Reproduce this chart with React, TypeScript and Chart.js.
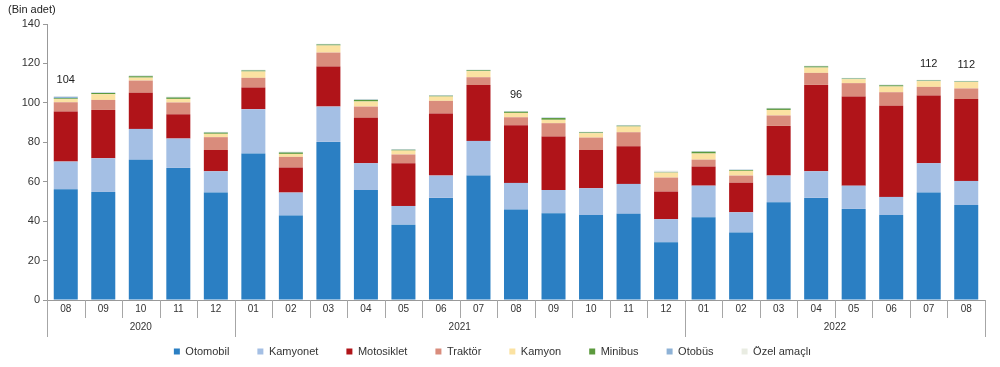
import React, { useEffect, useRef } from "react";
import { Chart, registerables } from "chart.js";
Chart.register(...registerables);

const months = ["08","09","10","11","12","01","02","03","04","05","06","07","08","09","10","11","12","01","02","03","04","05","06","07","08"];
const yearLabels = ["2020", "2021", "2022"];
const yearStart = [0, 5, 17];
const yearEnd = [4, 16, 24];

const otomobil = [56.2,54.8,71.1,67.0,54.5,74.3,42.8,80.2,55.8,38.2,51.8,63.1,45.9,44.0,43.1,43.7,29.3,42.0,34.2,49.6,51.8,46.2,43.1,54.5,48.2];
const kamyonet = [14.0,17.1,15.7,14.9,10.8,22.5,11.7,17.9,13.6,9.5,11.3,17.6,13.5,11.8,13.6,15.2,11.7,16.0,10.3,13.5,13.5,11.8,9.2,14.9,12.2];
const motosiklet = [25.4,24.5,18.3,12.3,10.8,11.0,12.7,20.3,23.0,21.7,31.5,28.3,29.3,27.1,19.4,19.1,14.0,9.7,15.0,25.2,43.8,45.2,46.2,34.3,41.5];
const traktor = [4.7,5.1,6.2,6.0,6.5,4.9,5.4,7.1,5.7,4.4,6.4,4.0,4.0,6.8,6.3,7.1,7.1,3.5,3.6,5.3,6.1,6.8,6.9,4.4,5.4];
const kamyon = [1.6,2.9,1.5,1.8,1.7,3.2,1.5,3.6,2.6,2.0,2.2,3.1,2.2,1.7,2.2,2.9,2.5,3.1,2.4,2.8,2.7,2.0,2.9,2.9,3.3];
const minibus = [0.4,0.6,0.7,0.7,0.6,0.5,0.7,0.5,0.8,0.4,0.4,0.4,0.6,0.9,0.4,0.4,0.2,0.9,0.4,0.7,0.6,0.3,0.6,0.3,0.2];
const otobus = [0.8,0.2,0.2,0.2,0.2,0.2,0.2,0.2,0.2,0.2,0.2,0.2,0.2,0.2,0.2,0.2,0.2,0.2,0.2,0.2,0.2,0.2,0.2,0.2,0.2];
const ozel = [0.3,0.2,0.3,0.3,0.2,0.2,0.3,0.2,0.3,0.2,0.2,0.2,0.2,0.2,0.2,0.2,0.6,0.2,0.2,0.2,0.2,0.2,0.2,0.2,0.2];
const totalLabels: (string | null)[] = ["104",null,null,null,null,null,null,null,null,null,null,null,"96",null,null,null,null,null,null,null,null,null,null,"112","112"];
const yTicks = [0, 20, 40, 60, 80, 100, 120, 140];

const seriesNames = ["Otomobil","Kamyonet","Motosiklet","Traktör","Kamyon","Minibus","Otobüs","Özel amaçlı"];
const seriesData = [otomobil, kamyonet, motosiklet, traktor, kamyon, minibus, otobus, ozel];
const seriesColors = ["#2b7fc3","#a4bfe4","#b01419","#d98c7c","#fbe2a2","#5c9a3e","#8eb2d6","#e9ece2"];

const FONT = "'Liberation Sans', Arial, sans-serif";
const NARROW = "'Liberation Sans Narrow', 'Liberation Sans', Arial, sans-serif";

const overlay = {
  id: "overlay",
  afterDraw(chart: any) {
    const { ctx, chartArea, scales } = chart;
    const x = scales.x;
    const y = scales.y;
    const half = (x.getPixelForValue(1) - x.getPixelForValue(0)) / 2;
    ctx.save();
    // title
    ctx.fillStyle = "#222";
    ctx.font = `11px ${FONT}`;
    ctx.textAlign = "left";
    ctx.textBaseline = "middle";
    ctx.fillText("(Bin adet)", 8, 10);
    // month separators
    ctx.strokeStyle = "#a6a6a6";
    ctx.lineWidth = 1;
    for (let i = 0; i <= months.length; i++) {
      const px = Math.round(x.getPixelForValue(0) - half + i * 2 * half) + 0.5;
      const isYear = yearStart.includes(i) || i === months.length;
      ctx.beginPath();
      ctx.moveTo(px, chartArea.bottom);
      ctx.lineTo(px, isYear ? 337 : 318);
      ctx.stroke();
    }
    // month labels
    ctx.fillStyle = "#333";
    ctx.font = `10px ${NARROW}`;
    ctx.textAlign = "center";
    for (let i = 0; i < months.length; i++) {
      ctx.fillText(months[i], x.getPixelForValue(i), 309);
    }
    // year labels
    for (let k = 0; k < yearLabels.length; k++) {
      const cx = (x.getPixelForValue(yearStart[k]) + x.getPixelForValue(yearEnd[k])) / 2;
      ctx.fillText(yearLabels[k], cx, 327);
    }
    // totals
    ctx.fillStyle = "#222";
    ctx.font = `11px ${FONT}`;
    for (let i = 0; i < months.length; i++) {
      const lab = totalLabels[i];
      if (!lab) continue;
      let sum = 0;
      for (const s of seriesData) sum += s[i];
      ctx.fillText(lab, x.getPixelForValue(i), y.getPixelForValue(sum) - 16);
    }
    ctx.restore();
  },
};

export default function App() {
  const ref = useRef<HTMLCanvasElement | null>(null);
  useEffect(() => {
    document.body.style.margin = "0";
    if (!ref.current) return;
    const chart = new Chart(ref.current, {
      type: "bar",
      data: {
        labels: months,
        datasets: seriesNames.map((n, i) => ({
          label: n,
          data: seriesData[i],
          backgroundColor: seriesColors[i],
          borderWidth: 0,
          barPercentage: 1,
          categoryPercentage: 0.64,
        })),
      },
      options: {
        animation: false,
        responsive: true,
        maintainAspectRatio: false,
        layout: { padding: { top: 24, right: 15, left: 0, bottom: 0 } },
        plugins: {
          legend: {
            position: "bottom",
            labels: {
              boxWidth: 6,
              boxHeight: 6,
              padding: 28,
              color: "#333",
              font: { family: FONT, size: 11 },
            },
          },
          tooltip: { enabled: false },
        },
        scales: {
          x: {
            stacked: true,
            grid: { display: false },
            border: { display: true, color: "#999" },
            ticks: { display: false },
            afterFit: (s: any) => { s.height = 18; },
          },
          y: {
            stacked: true,
            min: 0,
            max: 140,
            afterBuildTicks: (s: any) => { s.ticks = yTicks.map((v) => ({ value: v })); },
            grid: { drawOnChartArea: false, drawTicks: true, tickLength: 4, color: "#999" },
            border: { display: true, color: "#999" },
            ticks: { color: "#333", font: { family: FONT, size: 11 }, padding: 3 },
            afterFit: (s: any) => { s.width = 47; },
          },
        },
      },
      plugins: [overlay],
    });
    return () => chart.destroy();
  }, []);
  return (
    <div style={{ width: 1000, height: 367, position: "relative" }}>
      <canvas ref={ref} />
    </div>
  );
}
